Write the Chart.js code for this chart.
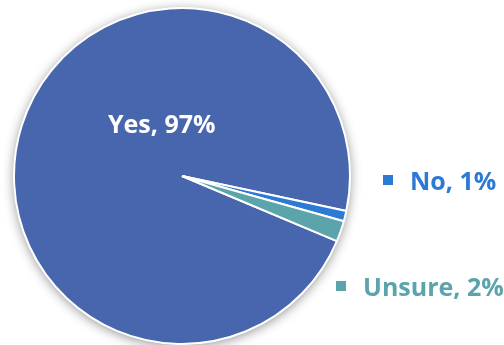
<!DOCTYPE html>
<html>
<head>
<meta charset="utf-8">
<script src="https://cdn.jsdelivr.net/npm/chart.js@4/dist/chart.umd.min.js"></script>
<style>
  html, body { margin: 0; padding: 0; background: #fff; }
  canvas { display: block; }
</style>
</head>
<body>
<canvas id="pie" width="504" height="345"></canvas>
<script>
// ---- data ----
const answers = ['Yes', 'No', 'Unsure'];
const shares = [97, 1, 2];
const sliceColors = ['#4866AD', '#2C7AD3', '#5BA4AB'];

// soft drop shadow under the whole pie
const pieShadow = {
  id: 'pieShadow',
  beforeDatasetsDraw(chart) {
    const arc = chart.getDatasetMeta(0).data[0];
    if (!arc) return;
    const ctx = chart.ctx;
    ctx.save();
    ctx.shadowColor = 'rgba(0,0,0,0.45)';
    ctx.shadowBlur = 12;
    ctx.shadowOffsetY = 2;
    ctx.fillStyle = '#ffffff';
    ctx.beginPath();
    ctx.arc(arc.x, arc.y, arc.outerRadius, 0, Math.PI * 2);
    ctx.fill();
    ctx.restore();
  }
};

// data labels: "Yes" inside, the small slices outside with a colour square
const sliceLabels = {
  id: 'sliceLabels',
  afterDatasetsDraw(chart) {
    const meta = chart.getDatasetMeta(0);
    const cx = meta.data[0].x, cy = meta.data[0].y;
    const ctx = chart.ctx;
    ctx.save();
    ctx.font = '700 25px "Open Sans"';
    ctx.textBaseline = 'alphabetic';
    ctx.textAlign = 'left';
    const spots = [
      { x: cx - 74, y: cy - 43, square: false, color: '#ffffff' },
      { x: cx + 228, y: cy + 14, square: true, color: sliceColors[1] },
      { x: cx + 181, y: cy + 120, square: true, color: sliceColors[2] }
    ];
    answers.forEach((a, i) => {
      const s = spots[i];
      const txt = a + ', ' + shares[i] + '%';
      ctx.fillStyle = s.color;
      ctx.fillText(txt, s.x, s.y);
      if (s.square) ctx.fillRect(s.x - 27, s.y - 15, 10, 10);
    });
    ctx.restore();
  }
};

new Chart(document.getElementById('pie'), {
  type: 'pie',
  data: {
    labels: answers,
    datasets: [{
      data: shares,
      backgroundColor: sliceColors,
      borderColor: '#ffffff',
      borderWidth: 2
    }]
  },
  options: {
    responsive: false,
    animation: false,
    rotation: 112.8,
    layout: { padding: { left: 13, right: 153, top: 7, bottom: 0 } },
    plugins: { legend: { display: false }, tooltip: { enabled: false } }
  },
  plugins: [pieShadow, sliceLabels]
});
</script>
</body>
</html>
